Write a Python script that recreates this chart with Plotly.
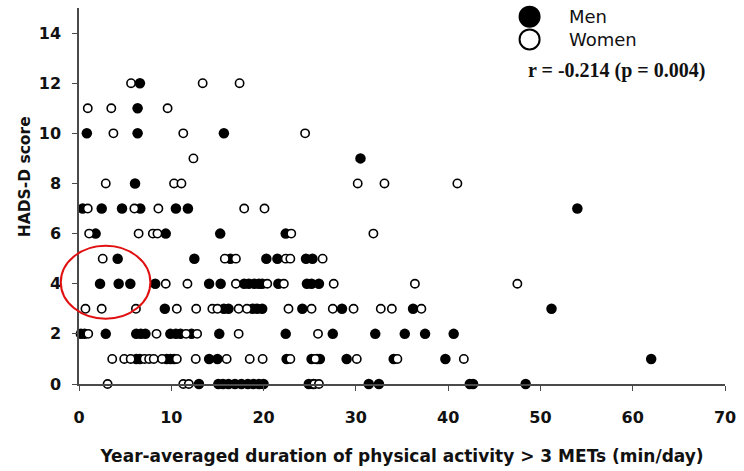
import plotly.graph_objects as go

# HADS-D score versus year-averaged duration of physical activity > 3 METs
men_x = [6.6,
         6.35,
         0.85, 6.35, 15.7,
         30.5,
         6.07,
         0.4, 2.46, 4.66, 6.64, 10.5, 11.8, 54.0,
         1.8, 9.4, 15.3, 22.4,
         4.19, 12.5, 16.4, 20.3, 21.5, 24.6, 25.3,
         2.28, 4.3, 5.56, 8.26, 14.1, 15.35, 17.9, 18.4, 19.0, 19.5, 19.85, 21.6, 24.7, 25.2, 26.0,
         9.3, 15.7, 16.2, 18.8, 19.3, 19.85, 24.2, 28.5, 36.2, 51.2,
         0.2, 0.6, 2.9, 6.2, 6.7, 7.2, 9.9, 10.5, 11.0, 12.2, 15.2, 22.4, 27.5, 32.1, 35.3, 37.5, 40.6,
         6.2, 6.6, 9.5, 9.9, 10.3, 14.1, 15.0, 22.5, 25.2, 25.8, 26.1, 29.0, 34.1, 39.7, 62.0,
         13.0, 15.1, 15.6, 16.2, 16.9, 17.6, 18.3, 18.9, 19.5, 20.0, 24.9, 25.4, 31.4, 32.5, 42.35, 42.7, 48.4]
men_y = [12,
         11,
         10, 10, 10,
         9,
         8,
         7, 7, 7, 7, 7, 7, 7,
         6, 6, 6, 6,
         5, 5, 5, 5, 5, 5, 5,
         4, 4, 4, 4, 4, 4, 4, 4, 4, 4, 4, 4, 4, 4, 4,
         3, 3, 3, 3, 3, 3, 3, 3, 3, 3,
         2, 2, 2, 2, 2, 2, 2, 2, 2, 2, 2, 2, 2, 2, 2, 2, 2,
         1, 1, 1, 1, 1, 1, 1, 1, 1, 1, 1, 1, 1, 1, 1,
         0, 0, 0, 0, 0, 0, 0, 0, 0, 0, 0, 0, 0, 0, 0, 0, 0]

women_x = [5.64, 13.4, 17.4,
           0.95, 3.5, 9.6,
           3.73, 11.3, 24.5,
           12.4,
           2.9, 10.3, 11.1, 30.2, 33.1, 41.0,
           0.95, 6.0, 8.6, 17.9, 20.1,
           1.1, 6.46, 8.0, 8.5, 23.0, 31.9,
           2.57, 15.8, 17.0, 22.4, 22.9, 26.4,
           9.4, 11.75, 17.0, 20.4, 22.2, 27.6, 36.4, 47.5,
           0.7, 2.46, 6.17, 10.6, 12.7, 14.45, 15.0, 17.3, 18.2, 22.7, 25.2, 27.5, 29.75, 32.7, 33.9, 37.1,
           1.0, 8.4, 11.6, 12.8, 17.3, 25.9,
           3.6, 4.9, 5.6, 7.1, 7.6, 8.1, 9.0, 10.6, 12.65, 16.0, 18.5, 19.9, 22.9, 25.6, 30.1, 34.5, 41.7,
           3.1, 11.3, 11.9, 25.5, 26.0]
women_y = [12, 12, 12,
           11, 11, 11,
           10, 10, 10,
           9,
           8, 8, 8, 8, 8, 8,
           7, 7, 7, 7, 7,
           6, 6, 6, 6, 6, 6,
           5, 5, 5, 5, 5, 5,
           4, 4, 4, 4, 4, 4, 4, 4,
           3, 3, 3, 3, 3, 3, 3, 3, 3, 3, 3, 3, 3, 3, 3, 3,
           2, 2, 2, 2, 2, 2,
           1, 1, 1, 1, 1, 1, 1, 1, 1, 1, 1, 1, 1, 1, 1, 1, 1,
           0, 0, 0, 0, 0]

x_ticks = [0, 10, 20, 30, 40, 50, 60, 70]
y_ticks = [0, 2, 4, 6, 8, 10, 12, 14]

SANS = "DejaVu Sans, Verdana, sans-serif"
SERIF = "Liberation Serif, Times New Roman, serif"
AXIS_COLOR = "#4a4a4a"

fig = go.Figure()
fig.add_trace(go.Scatter(
    x=men_x, y=men_y, mode="markers", name="Men", cliponaxis=False,
    marker=dict(size=10.5, color="black", line=dict(width=0)),
))
fig.add_trace(go.Scatter(
    x=women_x, y=women_y, mode="markers", name="Women", cliponaxis=False,
    marker=dict(size=8.3, color="white", line=dict(width=1.6, color="black")),
))

axis_common = dict(
    showgrid=False, zeroline=False, showline=True, linecolor=AXIS_COLOR, linewidth=1.5,
    ticks="outside", ticklen=5, tickwidth=1.2, tickcolor=AXIS_COLOR,
    tickfont=dict(family=SANS, size=16, color="#111", weight="bold"),
)
fig.update_xaxes(range=[0, 70], tickvals=x_ticks, ticklabelstandoff=13,
                 title=dict(text="Year-averaged duration of physical activity > 3 METs (min/day)",
                            font=dict(family=SANS, size=17, color="#111", weight="bold"),
                            standoff=24),
                 **axis_common)
fig.update_yaxes(range=[0, 15], tickvals=y_ticks, ticklabelstandoff=8, **axis_common)

# legend drawn as marker glyphs with labels in the upper right
legend_x = 0.6975
for yc, fill in [(0.977, "black"), (0.9165, "white")]:
    fig.add_shape(type="circle", xref="paper", yref="paper",
                  xsizemode="pixel", ysizemode="pixel",
                  xanchor=legend_x, yanchor=yc, x0=-10, x1=10, y0=-10, y1=10,
                  fillcolor=fill, line=dict(color="black", width=2))
fig.add_annotation(x=0.7555, y=0.977, xref="paper", yref="paper", text="Men",
                   showarrow=False, xanchor="left", yanchor="middle",
                   font=dict(family=SANS, size=18, color="#111"))
fig.add_annotation(x=0.7555, y=0.915, xref="paper", yref="paper", text="Women",
                   showarrow=False, xanchor="left", yanchor="middle",
                   font=dict(family=SANS, size=18, color="#111"))
fig.add_annotation(x=0.8316, y=0.835, xref="paper", yref="paper",
                   text="r = -0.214 (p = 0.004)", showarrow=False,
                   xanchor="center", yanchor="middle",
                   font=dict(family=SERIF, size=20, color="#111", weight="bold"))

# y-axis title
fig.add_annotation(x=-0.0832, y=0.5505, xref="paper", yref="paper",
                   text="HADS-D score", textangle=-90, showarrow=False,
                   xanchor="center", yanchor="middle",
                   font=dict(family=SANS, size=15.5, color="#111", weight="bold"))

# red highlight around the low-activity, mid-score cluster
fig.add_shape(type="circle", xref="paper", yref="paper",
              x0=-0.0282, x1=0.1105, y0=0.1736, y1=0.3677,
              line=dict(color="#e01010", width=2))

fig.update_layout(
    width=744, height=471, showlegend=False,
    margin=dict(l=79, r=16, t=8, b=87),
    plot_bgcolor="white", paper_bgcolor="white",
)

fig.write_html("out.html")
